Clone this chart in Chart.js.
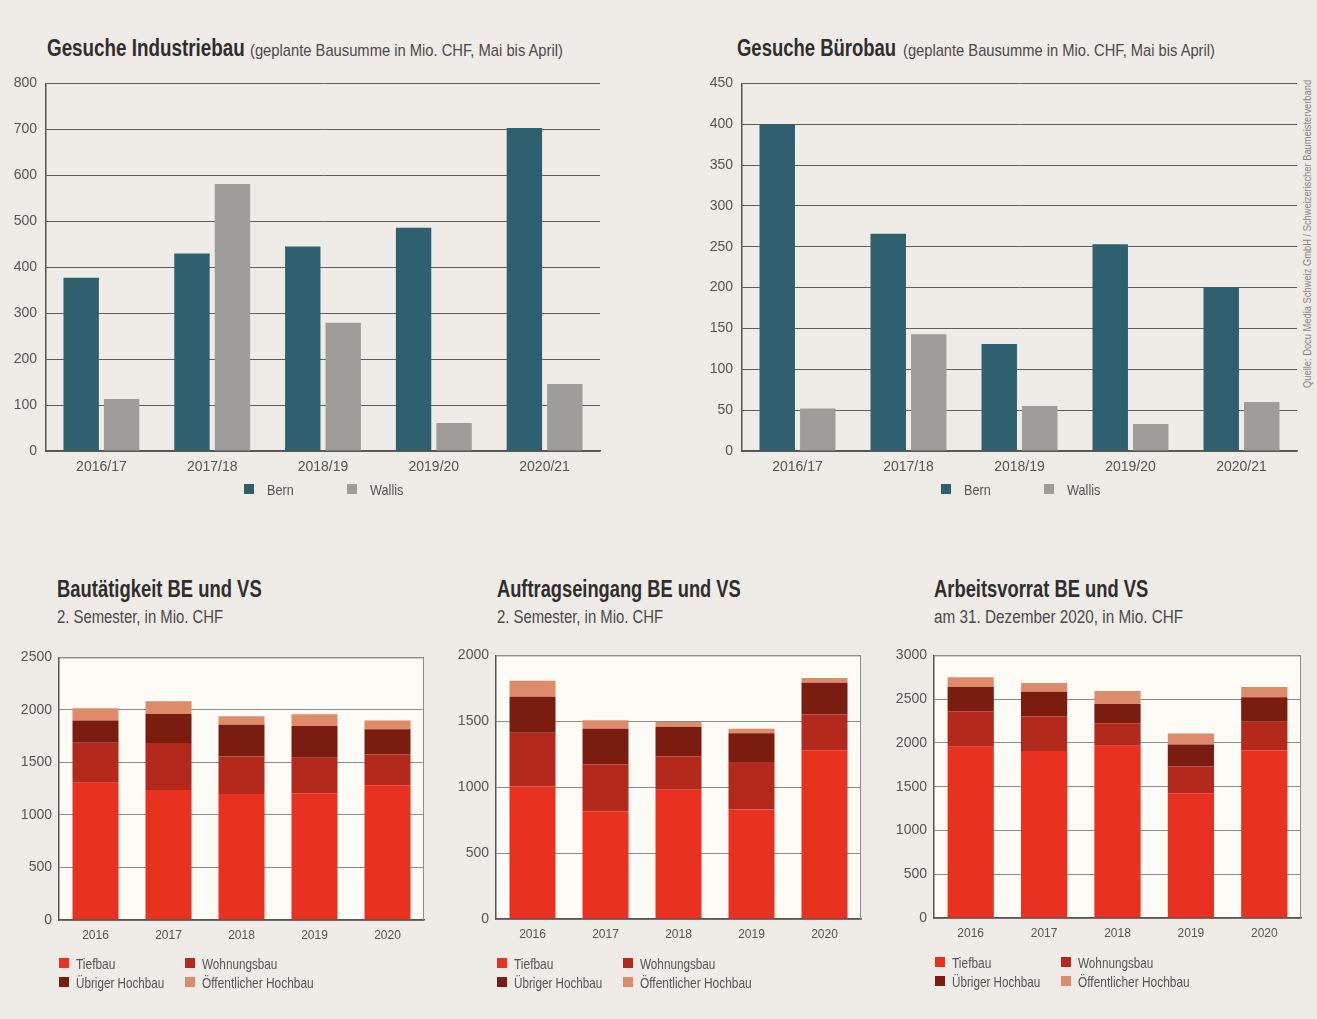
<!DOCTYPE html>
<html>
<head>
<meta charset="utf-8">
<script src="https://cdn.jsdelivr.net/npm/chart.js"></script>
<style>
  body { margin: 0; width: 1317px; height: 1019px; background: #efebe6; position: relative; overflow: hidden;
         font-family: "Liberation Sans", Arial, sans-serif; }
  canvas { position: absolute; }
  .t { position: absolute; white-space: nowrap; line-height: 1; transform-origin: 0 50%; }
  .bold { font-weight: bold; font-size: 23px; color: #2e2e2e; }
  .paren { font-size: 17px; color: #4a4a4a; }
  .sub { font-size: 18px; color: #4a4a4a; }
  .lt { font-size: 15px; color: #555; }
  .sw { position: absolute; width: 10px; height: 10px; }
  .src { position: absolute; font-size: 11px; color: #8a8580; white-space: nowrap; line-height: 1; transform-origin: 0 0; }
</style>
</head>
<body>

<div class="t bold"  data-w="198" style="left:47px;top:37px">Gesuche Industriebau</div>
<div class="t paren" data-w="313" style="left:250px;top:42px">(geplante Bausumme in Mio. CHF, Mai bis April)</div>
<div class="t bold"  data-w="159" style="left:737px;top:37px">Gesuche Bürobau</div>
<div class="t paren" data-w="312" style="left:903px;top:42px">(geplante Bausumme in Mio. CHF, Mai bis April)</div>
<div class="src" id="src" data-w="308" style="left:1302px;top:388px">Quelle: Docu Media Schweiz GmbH / Schweizerischer Baumeisterverband</div>

<div class="t bold" data-w="205" style="left:57px;top:578px">Bautätigkeit BE und VS</div>
<div class="t sub"  data-w="166" style="left:57px;top:608px">2. Semester, in Mio. CHF</div>
<div class="t bold" data-w="244" style="left:497px;top:578px">Auftragseingang BE und VS</div>
<div class="t sub"  data-w="166" style="left:497px;top:608px">2. Semester, in Mio. CHF</div>
<div class="t bold" data-w="214" style="left:934px;top:578px">Arbeitsvorrat BE und VS</div>
<div class="t sub"  data-w="249" style="left:934px;top:608px">am 31. Dezember 2020, in Mio. CHF</div>

<canvas id="c1" width="620" height="425" style="left:0;top:66px"></canvas>
<canvas id="c2" width="617" height="425" style="left:700px;top:66px"></canvas>
<canvas id="c3" width="440" height="318" style="left:0;top:642px"></canvas>
<canvas id="c4" width="440" height="318" style="left:440px;top:640px"></canvas>
<canvas id="c5" width="440" height="318" style="left:877px;top:640px"></canvas>

<div id="legends"></div>

<script>
// Gesuche (Mai bis April)
const seasons = ['2016/17', '2017/18', '2018/19', '2019/20', '2020/21'];
const industrieBern = [377, 430, 445, 486, 703];
const industrieWallis = [113, 581, 279, 61, 146];
const bueroBern = [400, 266, 131, 253, 200];
const bueroWallis = [52, 143, 55, 33, 60];

// BE und VS, stacked by sector
const years = ['2016', '2017', '2018', '2019', '2020'];
const sectors = ['Tiefbau', 'Wohnungsbau', 'Übriger Hochbau', 'Öffentlicher Hochbau'];

const bautaetigkeitTief = [1307, 1237, 1199, 1206, 1282];
const bautaetigkeitWohn = [380, 447, 358, 338, 294];
const bautaetigkeitUebrig = [212, 278, 301, 304, 240];
const bautaetigkeitOeff = [117, 120, 82, 111, 83];

const auftragTief = [1005, 818, 980, 831, 1280];
const auftragWohn = [409, 356, 255, 361, 271];
const auftragUebrig = [273, 270, 222, 217, 242];
const auftragOeff = [121, 64, 38, 35, 35];

const vorratTief = [1956, 1907, 1967, 1424, 1914];
const vorratWohn = [406, 398, 259, 308, 327];
const vorratUebrig = [278, 281, 220, 251, 281];
const vorratOeff = [110, 99, 148, 125, 118];

const BERN = '#2f6070';
const WALLIS = '#9e9d99';
const sectorColors = ['#e8311f', '#b3291b', '#7a1d10', '#de8b69'];

const FONT = '"Liberation Sans", Arial, sans-serif';

// cream plot background + thin frame for the lower charts
const plotFrame = {
  id: 'plotFrame',
  beforeDraw(chart, args, opts) {
    if (!opts.fill) return;
    const a = chart.chartArea, ctx = chart.ctx;
    ctx.save();
    ctx.fillStyle = opts.fill;
    ctx.fillRect(a.left, a.top, a.right - a.left, a.bottom - a.top);
    ctx.restore();
  },
  afterDraw(chart, args, opts) {
    if (!opts.fill) return;
    const a = chart.chartArea, ctx = chart.ctx;
    ctx.save();
    ctx.strokeStyle = '#8c8c8c';
    ctx.lineWidth = 1;
    ctx.beginPath();
    ctx.moveTo(a.left, a.top + 0.5);
    ctx.lineTo(a.right - 0.5, a.top + 0.5);
    ctx.lineTo(a.right - 0.5, a.bottom);
    ctx.stroke();
    ctx.restore();
  }
};

function makeChart(id, labels, datasets, o) {
  return new Chart(document.getElementById(id), {
    type: 'bar',
    data: { labels: labels, datasets: datasets },
    plugins: [plotFrame],
    options: {
      responsive: false,
      animation: false,
      layout: { padding: { top: 0, right: o.padRight, left: 0, bottom: 0 } },
      datasets: { bar: { categoryPercentage: o.catPct, barPercentage: o.barPct } },
      plugins: {
        legend: { display: false },
        tooltip: { enabled: false },
        plotFrame: { fill: o.fill || null }
      },
      scales: {
        x: {
          stacked: o.stacked,
          grid: { display: false, drawTicks: false },
          border: { display: true, color: '#555', width: 1.5 },
          ticks: { color: '#555', padding: o.xPad, font: { family: FONT, size: o.xFont } },
          afterFit: s => { s.height = o.xh; }
        },
        y: {
          stacked: o.stacked,
          min: 0, max: o.max,
          grid: { color: o.gridColor, lineWidth: 1, drawTicks: false },
          border: { display: true, color: '#555', width: 1.5 },
          ticks: { stepSize: o.step, color: '#555', padding: o.yPad, font: { family: FONT, size: 14 },
                   callback: v => String(v) },
          afterFit: s => { s.width = o.yw; }
        }
      }
    }
  });
}

function pairSets(a, b) {
  return [
    { label: 'Bern', data: a, backgroundColor: BERN },
    { label: 'Wallis', data: b, backgroundColor: WALLIS }
  ];
}
function sectorSets(t, w, u, oe) {
  return [t, w, u, oe].map((d, i) => ({ label: sectors[i], data: d, backgroundColor: sectorColors[i] }));
}

const topOpts = { stacked: false, catPct: 0.73, barPct: 0.875, gridColor: '#5e5e5e', xFont: 14, xPad: 8, padRight: 20, xh: 40 };
makeChart('c1', seasons, pairSets(industrieBern, industrieWallis),
  Object.assign({}, topOpts, { max: 800, step: 100, yw: 46, yPad: 9 }));
makeChart('c2', seasons, pairSets(bueroBern, bueroWallis),
  Object.assign({}, topOpts, { max: 450, step: 50, yw: 42, yPad: 9 }));

const botOpts = { stacked: true, catPct: 0.63, barPct: 1, gridColor: '#8c8c8c', fill: '#fdfbf6', xFont: 12, xPad: 8, yPad: 7 };
makeChart('c3', years, sectorSets(bautaetigkeitTief, bautaetigkeitWohn, bautaetigkeitUebrig, bautaetigkeitOeff),
  Object.assign({}, botOpts, { max: 2500, step: 500, yw: 59, padRight: 16, xh: 40 }));
makeChart('c4', years, sectorSets(auftragTief, auftragWohn, auftragUebrig, auftragOeff),
  Object.assign({}, botOpts, { max: 2000, step: 500, yw: 56, padRight: 19, xh: 39 }));
makeChart('c5', years, sectorSets(vorratTief, vorratWohn, vorratUebrig, vorratOeff),
  Object.assign({}, botOpts, { max: 3000, step: 500, yw: 57, padRight: 16, xh: 40 }));

// legends (html)
const lg = document.getElementById('legends');
function legendItem(x, y, gap, color, text, w) {
  const sw = document.createElement('div');
  sw.className = 'sw';
  sw.style.left = x + 'px'; sw.style.top = y + 'px'; sw.style.background = color;
  const t = document.createElement('div');
  t.className = 't lt';
  t.style.left = (x + gap) + 'px'; t.style.top = (y - 2) + 'px';
  t.dataset.w = w;
  t.textContent = text;
  lg.appendChild(sw); lg.appendChild(t);
}
[[244, 347], [941, 1044]].forEach(xs => {
  legendItem(xs[0], 484, 23, BERN, 'Bern', 27);
  legendItem(xs[1], 484, 23, WALLIS, 'Wallis', 33);
});
const sectorW = [39, 75, 88, 112];
[[59, 958], [497, 958], [935, 957]].forEach(p => {
  const x = p[0], y = p[1];
  legendItem(x, y, 17, sectorColors[0], sectors[0], sectorW[0]);
  legendItem(x + 126, y, 17, sectorColors[1], sectors[1], sectorW[1]);
  legendItem(x, y + 19, 17, sectorColors[2], sectors[2], sectorW[2]);
  legendItem(x + 126, y + 19, 17, sectorColors[3], sectors[3], sectorW[3]);
});

// squeeze texts to the condensed widths of the original
document.querySelectorAll('[data-w]').forEach(el => {
  const s = el.dataset.w / el.offsetWidth;
  el.style.transform = el.id === 'src' ? 'rotate(-90deg) scaleX(' + s + ')' : 'scaleX(' + s + ')';
});
</script>
</body>
</html>
